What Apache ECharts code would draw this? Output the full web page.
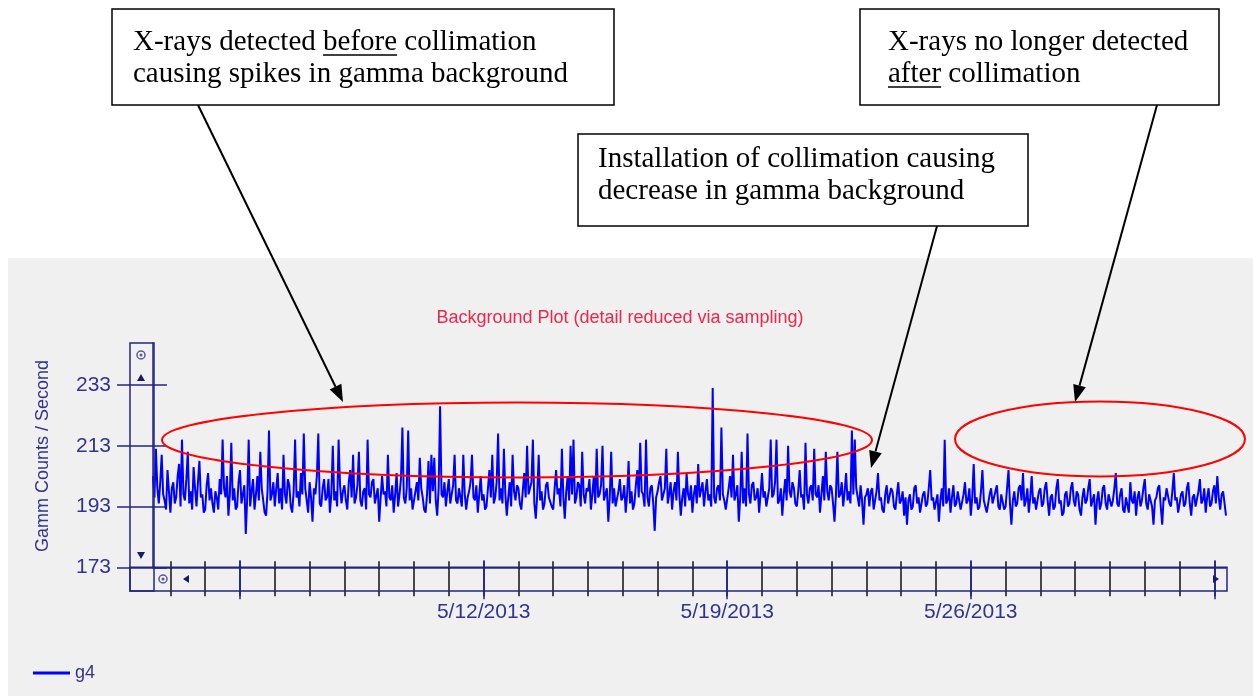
<!DOCTYPE html>
<html><head><meta charset="utf-8">
<script src="https://cdn.jsdelivr.net/npm/echarts@6/dist/echarts.min.js"></script>
<style>html,body{margin:0;padding:0;background:#fff;}#c{width:1253px;height:696px;}</style>
</head><body><div id="c"></div>
<script>
// Gamma background counts, sampled every hour from 5/2/2013 12:00
const g4 = [
203,196,212,199,194,201,210,197,195,192,205,198,191,199,201,194,196,203,207,193,
215,197,195,202,211,194,198,192,206,199,193,201,208,196,197,191,192,200,204,195,
199,194,191,198,196,192,202,197,215,199,196,203,190,197,214,195,199,192,193,201,
205,194,197,200,184,196,215,193,198,202,192,197,203,195,211,199,195,191,190,198,
218,195,197,201,193,199,204,194,199,192,210,197,194,202,200,193,191,198,215,196,
198,193,204,197,217,199,195,191,201,196,188,199,197,203,217,194,193,199,202,195,
196,202,191,197,213,195,198,193,215,200,194,198,200,195,192,201,205,196,210,194,
196,200,211,195,193,198,199,192,215,197,196,201,202,194,194,199,188,196,203,197,
198,193,210,196,195,200,191,197,204,193,197,202,219,196,194,199,218,195,199,192,
192,198,201,195,209,199,196,192,191,197,208,194,210,198,209,195,190,199,226,197,
196,201,193,198,202,194,197,200,210,195,194,199,199,193,210,197,192,196,198,201,
210,196,195,200,191,197,203,195,197,192,193,199,205,196,210,194,196,201,217,195,
199,194,212,197,190,196,201,193,210,198,195,200,199,194,192,198,204,196,213,197,
197,201,215,194,189,197,210,195,198,192,194,200,201,196,196,193,192,199,205,197,
199,193,212,196,189,198,203,195,213,197,215,194,196,201,200,193,211,197,194,199,
198,202,192,197,203,194,212,196,197,200,213,195,195,199,188,196,211,194,199,193,
193,198,202,195,196,200,191,197,208,194,198,192,194,200,205,196,214,198,197,193,
215,196,193,199,200,194,185,196,198,201,203,195,195,199,212,194,197,201,192,198,
201,195,211,197,190,196,199,193,204,197,195,200,191,197,200,194,207,196,196,201,
193,198,202,195,197,193,232,196,194,199,200,195,219,197,195,192,192,199,203,196,
210,195,197,200,188,196,211,194,199,193,217,197,194,200,201,195,196,199,191,197,
204,196,198,193,193,199,215,196,197,201,215,194,195,199,190,197,202,195,213,198,
196,201,199,194,193,198,205,196,197,192,214,197,194,199,200,195,212,197,196,200,
191,197,203,195,211,198,195,200,199,194,188,197,211,196,197,201,193,198,204,195,
198,194,218,197,215,199,196,193,200,195,187,196,197,199,193,198,199,192,195,198,
204,195,196,192,191,197,200,194,194,199,198,193,192,197,201,194,195,198,190,196,
187,195,197,192,193,199,200,194,196,191,191,197,198,193,194,199,205,195,196,192,
192,197,188,195,199,193,215,194,195,199,191,196,200,193,194,198,198,192,192,197,
201,194,195,199,190,196,207,194,196,192,193,198,205,195,195,191,191,197,199,194,
194,198,200,193,192,197,197,192,193,199,205,194,187,195,198,193,194,199,200,195,
204,193,195,199,191,196,203,194,196,192,192,198,199,193,194,199,201,195,190,196,
197,192,193,199,202,194,195,190,191,197,198,193,194,199,201,195,193,198,197,192,
190,196,199,194,195,199,202,193,193,197,187,195,198,192,194,199,200,194,192,197,
197,193,195,199,204,194,193,197,199,192,191,196,196,191,201,195,194,198,190,196,
198,193,195,199,202,194,192,197,197,193,187,195,196,199,200,193,187,196,195,199,
199,194,193,198,204,195,196,191,191,197,198,193,194,199,201,194,190,196,197,193,
193,198,202,194,195,199,191,196,199,193,194,198,200,194,203,196,192,197,198,194,
190
];
const startUTC = [2013, 4, 2, 12];
const stepHours = 1;
const majorDates = ['5/5/2013', '5/12/2013', '5/19/2013', '5/26/2013', '6/2/2013'];
const labeledDates = ['5/12/2013', '5/19/2013', '5/26/2013'];
const yTicks = [173, 193, 213, 233];
const yMin = 173, yMax = 246.8;
const seriesName = 'g4';
const chartTitle = 'Background Plot (detail reduced via sampling)';
const yTitle = 'Gamm Counts / Second';

const categories = g4.map((v, i) => {
  const d = new Date(Date.UTC(startUTC[0], startUTC[1], startUTC[2], startUTC[3] + i * stepHours));
  return (d.getUTCMonth() + 1) + '/' + d.getUTCDate() + '/' + d.getUTCFullYear() + ' ' + String(d.getUTCHours()).padStart(2, '0') + ':00';
});
const dateOf = c => c.split(' ')[0];
const isMidnight = c => c.endsWith(' 00:00');
const isMajor = c => isMidnight(c) && majorDates.includes(dateOf(c));
const isLabeled = c => isMidnight(c) && labeledDates.includes(dateOf(c));

const NAVY = '#24247f', NAVYTXT = '#33338f';
const chart = echarts.init(document.getElementById('c'), null, {renderer: 'canvas'});

function baseX(extra) {
  return Object.assign({
    type: 'category', data: categories, boundaryGap: false, gridIndex: 0, position: 'bottom', offset: 0,
    axisLine: {show: false, onZero: false}, axisLabel: {show: false}, splitLine: {show: false}
  }, extra);
}
function baseY(extra) {
  return Object.assign({
    type: 'value', min: yMin, max: yMax, interval: 20, position: 'left', offset: 0, gridIndex: 0,
    axisLine: {show: false, onZero: false}, axisLabel: {show: false}, splitLine: {show: false}
  }, extra);
}

const mctx = document.createElement('canvas').getContext('2d');
const SERIF = '29px "Liberation Serif", "Times New Roman", serif';
mctx.font = SERIF;
const tw = t => mctx.measureText(t).width;

function annText(x, yMid, text) {
  return {type: 'text', z: 60, silent: true, style: {x: x, y: yMid, text: text, font: SERIF, fill: '#000', textAlign: 'left', textVerticalAlign: 'middle'}};
}
function underline(x, yMid, prefix, word) {
  const x0 = x + tw(prefix), x1 = x0 + tw(word), y = yMid + 13;
  return {type: 'line', z: 60, silent: true, shape: {x1: x0, y1: y, x2: x1, y2: y}, style: {stroke: '#000', lineWidth: 1.5}};
}
function arrow(x1, y1, x2, y2) {
  const dx = x2 - x1, dy = y2 - y1, L = Math.hypot(dx, dy), ux = dx / L, uy = dy / L;
  const hl = 17, hw = 6.5;
  const bx = x2 - ux * hl, by = y2 - uy * hl, px = -uy, py = ux;
  return [
    {type: 'line', z: 55, silent: true, shape: {x1: x1, y1: y1, x2: bx, y2: by}, style: {stroke: '#000', lineWidth: 2}},
    {type: 'polygon', z: 55, silent: true, shape: {points: [[x2, y2], [bx + px * hw, by + py * hw], [bx - px * hw, by - py * hw]]}, style: {fill: '#000'}}
  ];
}
function ring(cx, cy) {
  return [
    {type: 'circle', z: 20, silent: true, shape: {cx: cx, cy: cy, r: 4}, style: {fill: 'none', stroke: '#5a5a96', lineWidth: 1.5}},
    {type: 'circle', z: 20, silent: true, shape: {cx: cx, cy: cy, r: 1.5}, style: {fill: '#5a5a96'}}
  ];
}
function tri(points) {
  return {type: 'polygon', z: 20, silent: true, shape: {points: points}, style: {fill: '#1a1a66'}};
}

const graphics = [
  {type: 'rect', z: -5, silent: true, shape: {x: 8, y: 258, width: 1245, height: 438}, style: {fill: '#f0f0f0'}},
  {type: 'rect', z: 20, silent: true, shape: {x: 130, y: 343, width: 24, height: 248}, style: {fill: 'none', stroke: NAVY, lineWidth: 1.5}},
  {type: 'rect', z: 20, silent: true, shape: {x: 130, y: 567.3, width: 1097, height: 23.7}, style: {fill: 'none', stroke: NAVY, lineWidth: 1.5}},
  ...ring(141, 355), ...ring(163, 579),
  tri([[137, 381], [145, 381], [141, 374]]),
  tri([[137, 552], [145, 552], [141, 559]]),
  tri([[189, 575], [189, 583], [183, 579]]),
  tri([[1213, 575], [1213, 583], [1219, 579]]),
  {type: 'text', z: 20, silent: true, style: {x: 43, y: 456, text: yTitle, font: '18px "Liberation Sans", Arial, sans-serif', fill: NAVYTXT, textAlign: 'center', textVerticalAlign: 'middle'}, rotation: Math.PI / 2, originX: 43, originY: 456},
  {type: 'text', z: 20, silent: true, style: {x: 620, y: 318, text: chartTitle, font: '18px "Liberation Sans", Arial, sans-serif', fill: '#e8284f', textAlign: 'center', textVerticalAlign: 'middle'}},
  {type: 'ellipse', z: 50, silent: true, shape: {cx: 517, cy: 440, rx: 355, ry: 37.5}, style: {fill: 'none', stroke: '#ff0000', lineWidth: 2}},
  {type: 'ellipse', z: 50, silent: true, shape: {cx: 1100, cy: 439, rx: 145, ry: 37.5}, style: {fill: 'none', stroke: '#ff0000', lineWidth: 2}},
  ...arrow(198, 105, 343, 402),
  ...arrow(937, 226, 871, 468),
  ...arrow(1157, 105, 1075, 402),
  {type: 'rect', z: 58, silent: true, shape: {x: 112, y: 9, width: 502, height: 96}, style: {fill: '#fff', stroke: '#000', lineWidth: 1.5}},
  {type: 'rect', z: 58, silent: true, shape: {x: 860, y: 9, width: 359, height: 96}, style: {fill: '#fff', stroke: '#000', lineWidth: 1.5}},
  {type: 'rect', z: 58, silent: true, shape: {x: 578, y: 134, width: 450, height: 92}, style: {fill: '#fff', stroke: '#000', lineWidth: 1.5}},
  annText(133, 42, 'X-rays detected before collimation'),
  underline(133, 42, 'X-rays detected ', 'before'),
  annText(133, 74, 'causing spikes in gamma background'),
  annText(888, 42, 'X-rays no longer detected'),
  annText(888, 74, 'after collimation'),
  underline(888, 74, '', 'after'),
  annText(598, 159, 'Installation of collimation causing'),
  annText(598, 191, 'decrease in gamma background')
];

const option = {
  animation: false,
  backgroundColor: '#ffffff',
  textStyle: {fontFamily: '"Liberation Sans", Arial, sans-serif'},
  grid: {left: 153, top: 343, width: 1073, height: 224.3, containLabel: false},
  legend: {
    data: [seriesName], left: 28, top: 659, itemWidth: 37, itemHeight: 3, itemGap: 10,
    icon: 'rect', itemStyle: {color: '#0000ff'},
    textStyle: {fontSize: 18, color: NAVYTXT, padding: [0, 0, 0, 0], fontFamily: '"Liberation Sans", Arial, sans-serif'}
  },
  xAxis: [
    baseX({
      axisLine: {show: true, onZero: false, lineStyle: {color: NAVY, width: 1.5}},
      axisTick: {show: true, interval: (i, v) => isMidnight(v), length: 29, lineStyle: {color: '#111', width: 1.5}},
      axisLabel: {show: true, interval: (i, v) => isLabeled(v), formatter: v => dateOf(v), margin: 34, fontSize: 21, color: NAVYTXT, fontFamily: '"Liberation Sans", Arial, sans-serif'}
    }),
    baseX({axisTick: {show: true, inside: true, interval: (i, v) => isMidnight(v), length: 6, lineStyle: {color: '#111', width: 1.5}}}),
    baseX({axisTick: {show: true, interval: (i, v) => isMajor(v), length: 32, lineStyle: {color: '#2020a0', width: 1.5}}}),
    baseX({axisTick: {show: true, inside: true, interval: (i, v) => isMajor(v), length: 7, lineStyle: {color: '#2020a0', width: 1.5}}})
  ],
  yAxis: [
    baseY({
      axisLine: {show: true, onZero: false, lineStyle: {color: NAVY, width: 1.5}},
      axisTick: {show: true, length: 36, customValues: yTicks, lineStyle: {color: NAVY, width: 1.5}},
      axisLabel: {show: true, margin: 42, fontSize: 21, color: NAVYTXT, customValues: yTicks, fontFamily: '"Liberation Sans", Arial, sans-serif'}
    }),
    baseY({axisTick: {show: true, inside: true, length: 14, customValues: yTicks, lineStyle: {color: NAVY, width: 1.5}}})
  ],
  series: [{
    name: seriesName, type: 'line', data: g4, xAxisIndex: 0, yAxisIndex: 0,
    symbol: 'none', z: 3,
    lineStyle: {color: '#0000ff', width: 2}, itemStyle: {color: '#0000ff'}
  }],
  graphic: graphics
};
chart.setOption(option);
</script></body></html>
